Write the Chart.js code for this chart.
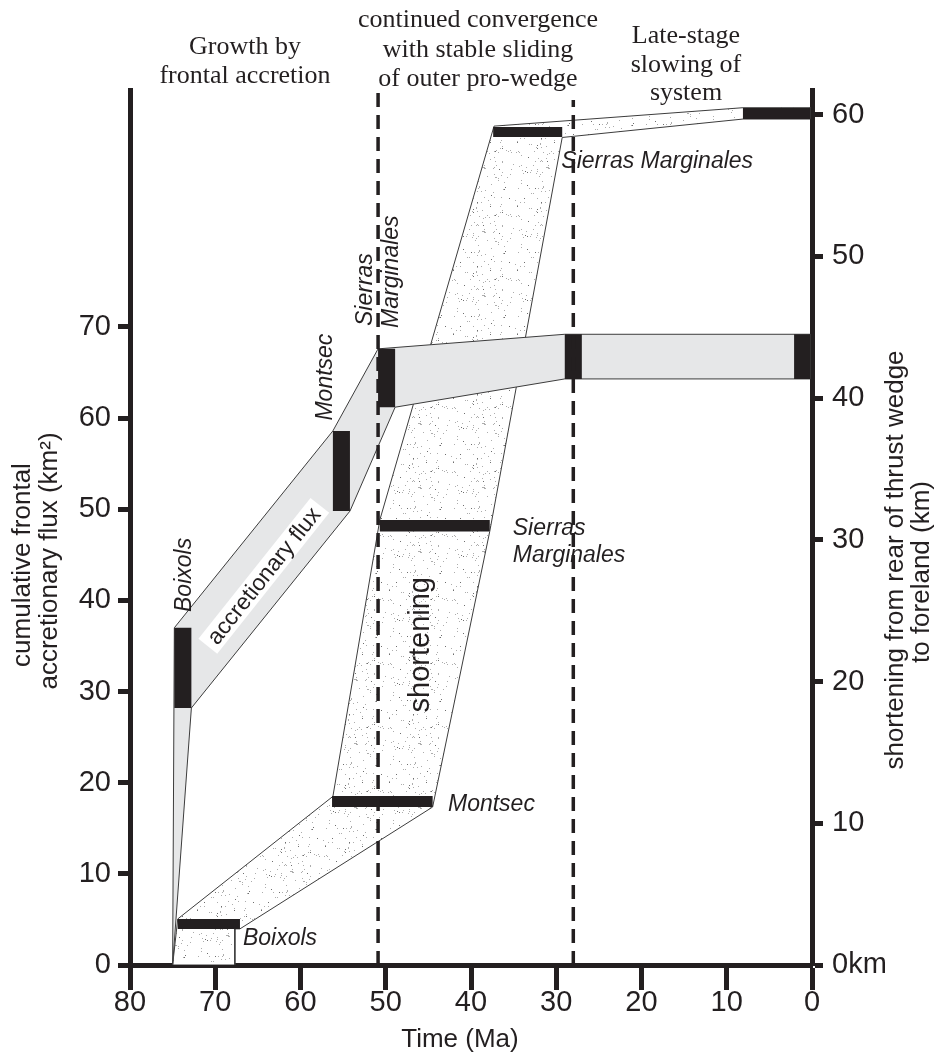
<!DOCTYPE html>
<html>
<head>
<meta charset="utf-8">
<title>Accretionary flux and shortening through time</title>
<script src="https://cdn.jsdelivr.net/npm/chart.js@4.4.1/dist/chart.umd.min.js"></script>
<style>
html,body{margin:0;padding:0;background:#ffffff;}
#wrap{position:relative;width:935px;height:1055px;}
canvas{display:block;}
</style>
</head>
<body>
<div id="wrap"><canvas id="chart" width="935" height="1055"></canvas></div>
<script>
// ---------------- data ----------------
const timeTicksMa = [80, 70, 60, 50, 40, 30, 20, 10, 0];
const fluxTicksKm2 = [0, 10, 20, 30, 40, 50, 60, 70];
const shorteningTicksKm = [0, 10, 20, 30, 40, 50, 60];

const phaseBoundariesMa = [50.9, 28.0];
const phaseBoundaryTopKm2 = [95.7, 94.9];

// accretionary flux envelope (grey band), left axis
const fluxEnvelopeMa  = [75.0, 74.8, 56.2, 50.9, 29.0, 0.2, 0.2, 29.0, 48.9, 54.2, 72.8, 75.0];
const fluxEnvelopeKm2 = [0.0, 37.0, 58.6, 67.6, 69.2, 69.2, 64.3, 64.3, 61.2, 49.8, 28.2, 0.0];

// accretionary flux constraints (black vertical bars)
const fluxBarStartMa = [74.8, 56.2, 50.9, 29.0, 2.1];
const fluxBarEndMa   = [72.8, 54.2, 48.9, 27.0, 0.2];
const fluxBarLowKm2  = [28.2, 49.8, 61.2, 64.3, 64.3];
const fluxBarHighKm2 = [37.0, 58.6, 67.6, 69.2, 69.2];

// shortening envelope (stippled band), right axis
const shortEnvelopeMa = [75.0, 74.4, 56.2, 50.7, 37.3, 8.1, 0.2, 0.2, 8.1, 29.3, 37.8, 44.5, 67.1, 67.7, 67.7, 75.0];
const shortEnvelopeKm = [0.0, 3.25, 11.9, 31.4, 59.2, 60.5, 60.5, 59.7, 59.7, 58.4, 30.6, 11.15, 2.55, 2.55, 0.0, 0.0];

// shortening constraints (black horizontal bars)
const shortBarStartMa = [74.4, 56.3, 50.7, 37.4, 8.1];
const shortBarEndMa   = [67.1, 44.5, 37.8, 29.3, 0.2];
const shortBarLowKm   = [2.54, 11.15, 30.6, 58.43, 59.7];
const shortBarHighKm  = [3.25, 11.93, 31.4, 59.14, 60.48];

// ---------------- styles ----------------
const INK = '#231f20';
const SANS = "'Liberation Sans', Arial, Helvetica, sans-serif";
const SERIF = "'Liberation Serif', 'Times New Roman', serif";

const canvas = document.getElementById('chart');
const mainCtx = canvas.getContext('2d');

function makeStipple() {
  const size = 64;
  const tile = document.createElement('canvas');
  tile.width = size; tile.height = size;
  const g = tile.getContext('2d');
  g.fillStyle = '#ffffff';
  g.fillRect(0, 0, size, size);
  let s = 20231;
  const next = () => (s = (s * 16807) % 2147483647);
  for (let k = 0; k < 125; k++) {
    const x = next() % size, y = next() % size, t = next() % 6;
    g.fillStyle = t === 0 ? '#6e6e6e' : '#adadad';
    g.fillRect(x, y, 1, 1);
  }
  return mainCtx.createPattern(tile, 'repeat');
}
const stipple = makeStipple();

const toPoints = (xs, ys) => xs.map((x, i) => ({x: x, y: ys[i]}));
const closed = pts => pts.concat([pts[0]]);
const rectPoints = (x0, x1, y0, y1) => closed([{x: x0, y: y0}, {x: x1, y: y0}, {x: x1, y: y1}, {x: x0, y: y1}]);

const datasets = [];
phaseBoundariesMa.forEach((ma, i) => datasets.push({
  data: [{x: ma, y: 0}, {x: ma, y: phaseBoundaryTopKm2[i]}],
  yAxisID: 'yFlux', borderColor: INK, borderWidth: 3.5, borderDash: [14, 8],
  fill: false, pointRadius: 0, order: 1, clip: false
}));
fluxBarStartMa.forEach((ma, i) => datasets.push({
  data: rectPoints(ma, fluxBarEndMa[i], fluxBarLowKm2[i], fluxBarHighKm2[i]),
  yAxisID: 'yFlux', backgroundColor: INK, borderWidth: 0, fill: 'shape', pointRadius: 0, order: 2
}));
datasets.push({
  data: closed(toPoints(fluxEnvelopeMa, fluxEnvelopeKm2)),
  yAxisID: 'yFlux', backgroundColor: '#e6e7e8', borderColor: '#3c3c3c', borderWidth: 1,
  fill: 'shape', pointRadius: 0, order: 3
});
shortBarStartMa.forEach((ma, i) => datasets.push({
  data: rectPoints(ma, shortBarEndMa[i], shortBarLowKm[i], shortBarHighKm[i]),
  yAxisID: 'yShort', backgroundColor: INK, borderWidth: 0, fill: 'shape', pointRadius: 0, order: 4
}));
datasets.push({
  data: closed(toPoints(shortEnvelopeMa, shortEnvelopeKm)),
  yAxisID: 'yShort', backgroundColor: stipple, borderColor: '#3c3c3c', borderWidth: 1,
  fill: 'shape', pointRadius: 0, order: 5
});

// ---------------- text plugin ----------------
function txt(ctx, s, x, y, font, align, baseline, rot) {
  ctx.save();
  ctx.translate(x, y);
  if (rot) ctx.rotate(rot);
  ctx.font = font;
  ctx.textAlign = align || 'left';
  ctx.textBaseline = baseline || 'alphabetic';
  ctx.fillText(s, 0, 0);
  ctx.restore();
}
const annotationPlugin = {
  id: 'annotations',
  afterDraw(chart) {
    const ctx = chart.ctx;
    const X = chart.scales.x, F = chart.scales.yFlux, S = chart.scales.yShort;
    const xp = v => X.getPixelForValue(v);
    const fp = v => F.getPixelForValue(v);
    const sp = v => S.getPixelForValue(v);
    const UP = -Math.PI / 2;
    ctx.save();
    ctx.fillStyle = INK;

    // phase headings
    const head = `26px ${SERIF}`;
    [['Growth by', 245, 54], ['frontal accretion', 245, 83],
     ['continued convergence', 478, 27], ['with stable sliding', 478, 57], ['of outer pro-wedge', 478, 86],
     ['Late-stage', 686, 43], ['slowing of', 686, 72], ['system', 686, 100]]
      .forEach(([s, x, y]) => txt(ctx, s, x, y, head, 'center', 'alphabetic'));

    // axis titles
    const axf = `26px ${SANS}`;
    txt(ctx, 'Time (Ma)', 460, 1047, axf, 'center', 'alphabetic');
    txt(ctx, 'cumulative frontal', 23, 565, axf, 'center', 'middle', UP);
    txt(ctx, 'accretionary flux (km\u00B2)', 50, 561, axf, 'center', 'middle', UP);
    txt(ctx, 'shortening from rear of thrust wedge', 896, 560, axf, 'center', 'middle', UP);
    txt(ctx, 'to foreland (km)', 922, 572, axf, 'center', 'middle', UP);

    // labels on the accretionary flux band
    const it = `italic 23px ${SANS}`;
    txt(ctx, 'Boixols', xp(73.55), fp(42.8), it, 'center', 'middle', UP);
    txt(ctx, 'Montsec', xp(57.1), fp(64.5), it, 'center', 'middle', UP);
    txt(ctx, 'Sierras', xp(52.4), fp(70.1), it, 'left', 'middle', UP);
    txt(ctx, 'Marginales', xp(49.3), fp(69.9), it, 'left', 'middle', UP);

    // labelled box along the band
    ctx.save();
    ctx.translate(xp(64.3), fp(42.7));
    ctx.rotate(-51.5 * Math.PI / 180);
    ctx.fillStyle = '#ffffff';
    ctx.fillRect(-90, -12, 180, 24);
    ctx.fillStyle = INK;
    ctx.font = `23px ${SANS}`;
    ctx.textAlign = 'center';
    ctx.textBaseline = 'middle';
    ctx.fillText('accretionary flux', 0, 1);
    ctx.restore();

    // labels on the shortening band
    txt(ctx, 'Sierras Marginales', xp(29.4), sp(56.25), it, 'left', 'alphabetic');
    txt(ctx, 'Sierras', xp(35.1), sp(30.35), it, 'left', 'alphabetic');
    txt(ctx, 'Marginales', xp(35.1), sp(28.46), it, 'left', 'alphabetic');
    txt(ctx, 'Montsec', xp(42.7), sp(10.87), it, 'left', 'alphabetic');
    txt(ctx, 'Boixols', xp(66.75), sp(1.41), it, 'left', 'alphabetic');
    txt(ctx, 'shortening', xp(45.9), sp(22.6), `29px ${SANS}`, 'center', 'middle', UP);

    ctx.restore();
  }
};

// ---------------- chart ----------------
const tickFont = {family: SANS, size: 29, lineHeight: 1};
new Chart(mainCtx, {
  type: 'line',
  data: {datasets: datasets},
  options: {
    responsive: false,
    animation: false,
    events: [],
    layout: {padding: {top: 90, left: 0, right: 0, bottom: 0}},
    plugins: {legend: {display: false}, tooltip: {enabled: false}},
    elements: {line: {tension: 0, borderJoinStyle: 'miter'}, point: {radius: 0, hitRadius: 0}},
    scales: {
      x: {
        type: 'linear', position: 'bottom', min: 0, max: 80, reverse: true,
        afterBuildTicks: s => { s.ticks = timeTicksMa.map(v => ({value: v})); },
        afterFit: s => { s.height = 90; },
        border: {display: true, width: 5, color: INK},
        grid: {drawOnChartArea: false, drawTicks: true, tickLength: 25, tickWidth: 5, tickColor: INK},
        ticks: {color: INK, font: tickFont, padding: -2, maxRotation: 0, autoSkip: false}
      },
      yFlux: {
        type: 'linear', position: 'left', min: 0, max: 96,
        afterBuildTicks: s => { s.ticks = fluxTicksKm2.map(v => ({value: v})); },
        afterFit: s => { s.width = 130; },
        border: {display: true, width: 5, color: INK},
        grid: {drawOnChartArea: false, drawTicks: true, tickLength: 12, tickWidth: 5, tickColor: INK},
        ticks: {color: INK, font: tickFont, padding: 7, autoSkip: false}
      },
      yShort: {
        type: 'linear', position: 'right', min: 0, max: 61.75,
        afterBuildTicks: s => { s.ticks = shorteningTicksKm.map(v => ({value: v})); },
        afterFit: s => { s.width = 123; },
        border: {display: true, width: 5, color: INK},
        grid: {drawOnChartArea: false, drawTicks: true, tickLength: 11, tickWidth: 5, tickColor: INK},
        ticks: {color: INK, font: tickFont, padding: 9, autoSkip: false,
                callback: v => (v === 0 ? '0km' : String(v))}
      }
    }
  },
  plugins: [annotationPlugin]
});
</script>
</body>
</html>
